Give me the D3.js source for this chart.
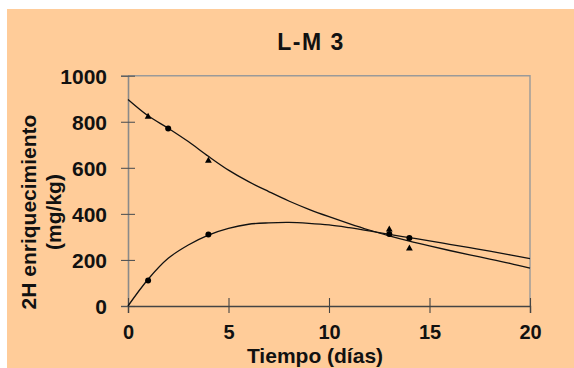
<!DOCTYPE html>
<html>
<head>
<meta charset="utf-8">
<script src="https://cdn.jsdelivr.net/npm/d3@7"></script>
<style>
  body { margin: 0; background: #fff; }
  svg { display: block; }
  text { font-family: "Liberation Sans", Arial, sans-serif; font-weight: bold; fill: #111; }
</style>
</head>
<body>
<svg></svg>
<script>
const W = 574, H = 368;

// data
const titleText = "L-M 3";
const xTicks = [0, 5, 10, 15, 20];
const yTicks = [0, 200, 400, 600, 800, 1000];

// measured points
const triT = [1, 4, 13, 14];
const triV = [822, 631, 332, 250];
const dotT = [2, 1, 4, 13, 14];
const dotV = [771, 111, 311, 313, 295];

// fitted curves, read along their length
const declT = [0, 1, 2, 3, 4, 5, 6, 7, 8, 9, 10, 11, 12, 13, 14, 15, 16, 17, 18, 19, 20];
const declV = [897, 826, 772, 714, 650, 590, 540, 497, 456, 420, 388, 358, 330, 305, 282, 261, 241, 222, 204, 185, 164];
const humpT = [0, 1, 2, 3, 4, 5, 6, 7, 8, 9, 10, 11, 12, 13, 14, 15, 16, 17, 18, 19, 20];
const humpV = [0, 116, 207, 265, 308, 337, 355, 361, 363, 359, 352, 340, 326, 311, 297, 283, 268, 253, 238, 222, 206];

const svg = d3.select("svg")
    .attr("width", W)
    .attr("height", H);

svg.append("rect")
    .attr("x", 7).attr("y", 9)
    .attr("width", W - 7).attr("height", H - 9)
    .attr("fill", "#ffcc99");

const x = d3.scaleLinear().domain([0, 20]).range([128, 530]);
const y = d3.scaleLinear().domain([0, 1000]).range([306, 75.7]);

// frame top / right
svg.append("path")
    .attr("d", `M${x(0)},${y(1000)}H${x(20)}V${y(0)}`)
    .attr("fill", "none")
    .attr("stroke", "#9a9a9a")
    .attr("stroke-width", 1.4);

// y axis
const yAxis = svg.append("g")
    .attr("transform", `translate(${x(0)},0)`)
    .call(d3.axisLeft(y).tickValues(yTicks).tickSize(7).tickFormat(d3.format("d")));
yAxis.select(".domain").attr("stroke", "#8a8a8a").attr("stroke-width", 1.6);
yAxis.selectAll(".tick line").attr("stroke", "#555").attr("x2", 7).attr("x1", -7).attr("stroke-width", 1.1);
yAxis.selectAll(".tick text")
    .attr("x", -21)
    .attr("dy", "0.36em")
    .style("font-size", "21px");

// x axis
const xAxis = svg.append("g")
    .attr("transform", `translate(0,${y(0)})`)
    .call(d3.axisBottom(x).tickValues(xTicks).tickSize(7));
xAxis.select(".domain").attr("stroke", "#444").attr("stroke-width", 1.4);
xAxis.selectAll(".tick line").attr("stroke", "#444").attr("y1", -8).attr("y2", 7).attr("stroke-width", 1.1);
xAxis.selectAll(".tick text")
    .attr("y", 33)
    .attr("dy", 0)
    .style("font-size", "20px");

// curves
const line = d3.line()
    .x(d => x(d[0]))
    .y(d => y(d[1]))
    .curve(d3.curveCatmullRom);

svg.append("path")
    .datum(d3.zip(declT, declV))
    .attr("d", line)
    .attr("fill", "none")
    .attr("stroke", "#111")
    .attr("stroke-width", 1.3);

svg.append("path")
    .datum(d3.zip(humpT, humpV))
    .attr("d", line)
    .attr("fill", "none")
    .attr("stroke", "#111")
    .attr("stroke-width", 1.3);

// markers
svg.selectAll(".tri")
    .data(d3.zip(triT, triV))
    .enter()
    .append("path")
    .attr("class", "tri")
    .attr("d", d3.symbol().type(d3.symbolTriangle).size(20))
    .attr("transform", d => `translate(${x(d[0])},${y(d[1])})`)
    .attr("fill", "#000");

svg.selectAll(".dot")
    .data(d3.zip(dotT, dotV))
    .enter()
    .append("circle")
    .attr("class", "dot")
    .attr("cx", d => x(d[0]))
    .attr("cy", d => y(d[1]))
    .attr("r", 3)
    .attr("fill", "#000");

// titles
svg.append("text")
    .attr("x", 311)
    .attr("y", 50)
    .attr("text-anchor", "middle")
    .style("font-size", "23px")
    .style("letter-spacing", "1.5px")
    .text(titleText);

svg.append("text")
    .attr("x", 315)
    .attr("y", 363)
    .attr("text-anchor", "middle")
    .style("font-size", "21px")
    .text("Tiempo (días)");

const yl = svg.append("text")
    .attr("transform", "translate(0,212) rotate(-90)")
    .attr("text-anchor", "middle")
    .style("font-size", "21px");
yl.append("tspan").attr("x", 0).attr("y", 36).text("2H enriquecimiento");
yl.append("tspan").attr("x", 0).attr("y", 61).text("(mg/kg)");
</script>
</body>
</html>
